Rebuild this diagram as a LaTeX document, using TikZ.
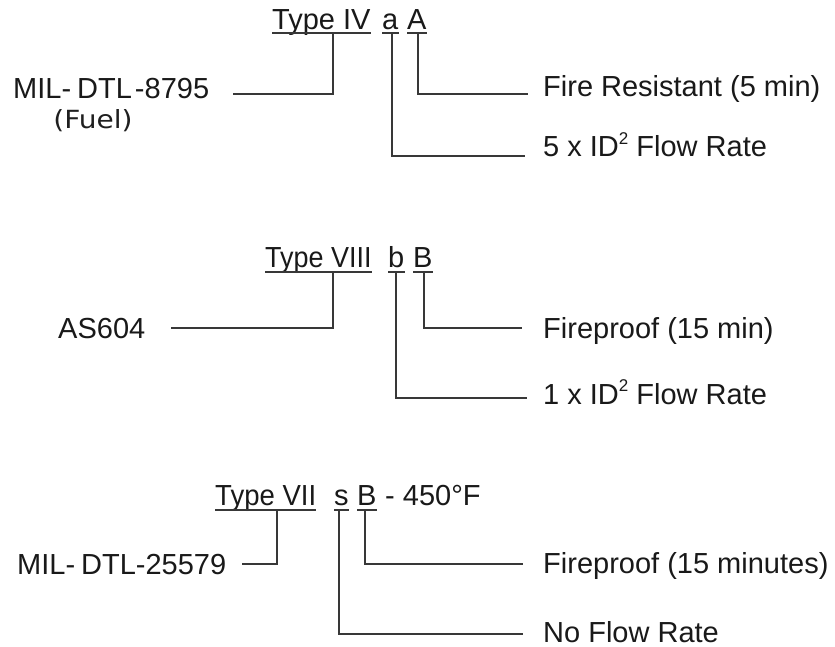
\documentclass[tikz,border=0pt]{standalone}
\usepackage{fontspec}
\setmainfont{Liberation Sans}
\newfontfamily\fuelfont{DejaVu Sans}
\newcommand{\supsmall}[1]{\raisebox{0.42em}{\fontsize{17}{17}\selectfont #1}}
\begin{document}
\begin{tikzpicture}[x=1pt,y=-1pt,
  lbl/.style={anchor=base west, inner sep=0pt, font=\fontsize{29}{34}\selectfont, text=black!90},
  ttl/.style={anchor=base west, inner sep=0pt, font=\fontsize{29}{34}\selectfont, text=black!90},
  conn/.style={line width=1.8pt, draw=black!78},
  uline/.style={line width=1.8pt, draw=black!78}]
\useasboundingbox[fill=white] (0,0) rectangle (835,647);

% ---------- Block 1 ----------
\node[ttl] (t1) at (272,30) {Type IV};
\node[ttl] (t1a) at (382,30) {a};
\node[ttl] (t1A) at (407,30) {A};
\draw[uline] (t1.base west |- 0,33) -- (t1.base east |- 0,33);
\draw[uline] (t1a.base west |- 0,33) -- (t1a.base east |- 0,33);
\draw[uline] (t1A.base west |- 0,33) -- (t1A.base east |- 0,33);

\node[lbl] (m1) at (13,99) {MIL-\hspace{6pt}DTL\hspace{3pt}-8795};
\node[inner sep=0pt, font=\fuelfont\fontsize{25}{30}\selectfont, text=black!88] (fuel) at (93,121) {\scalebox{1.12}[1]{(Fuel)}};
\node[lbl] (f1) at (543,97) {Fire Resistant (5 min)};
\node[lbl] (r1) at (543,157) {5 x ID\supsmall{2} Flow Rate};

\coordinate (j1) at (333,33);
\coordinate (j1a) at (392,33);
\coordinate (j1A) at (418,33);
\coordinate (e1m) at (233,94);
\coordinate (e1f) at (528,94);
\coordinate (e1r) at (525,156);
\draw[conn] (j1) |- (e1m);
\draw[conn] (j1A) |- (e1f);
\draw[conn] (j1a) |- (e1r);

% ---------- Block 2 ----------
\node[ttl] (t2) at (265,267) {\scalebox{0.93}[1]{Type VIII}};
\node[ttl] (t2b) at (388,267) {b};
\node[ttl] (t2B) at (413,267) {B};
\draw[uline] (t2.base west |- 0,272) -- (t2.base east |- 0,272);
\draw[uline] (t2b.base west |- 0,272) -- (t2b.base east |- 0,272);
\draw[uline] (t2B.base west |- 0,272) -- (t2B.base east |- 0,272);

\node[lbl] (m2) at (58,338) {AS604};
\node[lbl] (f2) at (543,338) {Fireproof (15 min)};
\node[lbl] (r2) at (543,404) {1 x ID\supsmall{2} Flow Rate};

\coordinate (j2) at (333,272);
\coordinate (j2b) at (396,272);
\coordinate (j2B) at (424,272);
\coordinate (e2m) at (171,328);
\coordinate (e2f) at (522,328);
\coordinate (e2r) at (527,398);
\draw[conn] (j2) |- (e2m);
\draw[conn] (j2B) |- (e2f);
\draw[conn] (j2b) |- (e2r);

% ---------- Block 3 ----------
\node[ttl] (t3) at (215,505) {\scalebox{0.95}[1]{Type VII}};
\node[ttl] (t3s) at (334,505) {s};
\node[ttl] (t3B) at (357,505) {B};
\node[lbl] (t3t) at (385,505) {- 450°F};
\draw[uline] (t3.base west |- 0,510) -- (t3.base east |- 0,510);
\draw[uline] (t3s.base west |- 0,510) -- (t3s.base east |- 0,510);
\draw[uline] (t3B.base west |- 0,510) -- (t3B.base east |- 0,510);

\node[lbl] (m3) at (17,574) {MIL-\hspace{6pt}DTL-25579};
\node[lbl] (f3) at (543,573) {Fireproof (15 minutes)};
\node[lbl] (r3) at (543,642) {No Flow Rate};

\coordinate (j3) at (277,510);
\coordinate (j3s) at (339,510);
\coordinate (j3B) at (365,510);
\coordinate (e3m) at (242,564);
\coordinate (e3f) at (523,564);
\coordinate (e3r) at (523,634);
\draw[conn] (j3) |- (e3m);
\draw[conn] (j3B) |- (e3f);
\draw[conn] (j3s) |- (e3r);
\end{tikzpicture}
\end{document}
